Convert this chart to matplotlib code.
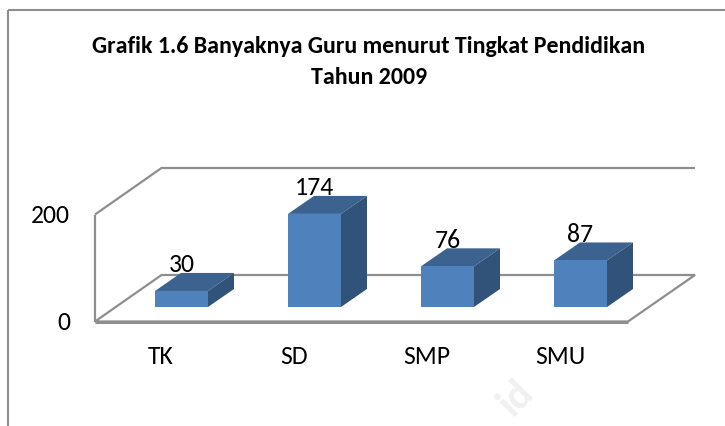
import matplotlib
matplotlib.use("Agg")
import matplotlib.pyplot as plt
from matplotlib.patches import Polygon

categories = ["TK", "SD", "SMP", "SMU"]
values = [30, 174, 76, 87]
y_ticks = [0, 200]
title = "Grafik 1.6 Banyaknya Guru menurut Tingkat Pendidikan\nTahun 2009"

W, H = 725, 426
PX_X = 133.0      # pixels per category
PX_Y = 0.535      # pixels per value unit
X0, Y0 = 181.5, 321.5  # pixel position of category 0 / value 0

plt.rcParams['font.family'] = ['Carlito', 'Lato', 'Open Sans', 'DejaVu Sans']
fig = plt.figure(figsize=(W / 100, H / 100), dpi=100, facecolor="white")
ax = fig.add_axes([0, 0, 1, 1])
ax.set_xlim(-X0 / PX_X, (W - X0) / PX_X)
ax.set_ylim(-(H - Y0) / PX_Y, Y0 / PX_Y)
ax.axis("off")

dx = lambda p: p / PX_X
dy = lambda p: p / PX_Y

GRAY = "#8e8e8e"
def line(xs, ys, lw=1.6, c=GRAY, z=1):
    ax.plot(xs, ys, color=c, lw=lw, solid_capstyle="butt", solid_joinstyle="miter", zorder=z)

# chart frame
fx = dx(7.5 - X0)
line([fx, fx], [dy(Y0 - H), dy(Y0 - 9.5)], lw=1.5)
line([fx, dx(W - X0)], [dy(Y0 - 9.5), dy(Y0 - 9.5)], lw=1.5)

# 3D walls and floor
wl = dx(95 - X0)        # front-left
bl = dx(161.5 - X0)     # back-left
fr = dx(628 - X0)       # front-right
br = dx(695 - X0)       # back-right
back = dy(46.5)
top = y_ticks[-1]
line([wl, wl], [0, top])
line([wl, bl, br], [top, top + back, top + back])
line([wl, bl, br, fr, wl], [0, back, back, 0, 0])
line([wl, fr], [0, 0], lw=2.2)

# bars
bw = dx(53)
ox, oy = dx(26), dy(18)
base = dy(14.5)
for i, v in enumerate(values):
    l, r = i - bw / 2, i + bw / 2
    b, t = base, base + v
    ax.add_patch(Polygon([(l, t), (r, t), (r + ox, t + oy), (l + ox, t + oy)], fc="#3c6290", ec="none", zorder=3))
    ax.add_patch(Polygon([(r, b), (r + ox, b + oy), (r + ox, t + oy), (r, t)], fc="#325379", ec="none", zorder=3))
    ax.add_patch(Polygon([(l, b), (r, b), (r, t), (l, t)], fc="#4f81bd", ec="none", zorder=3))
    ax.text(i, t + oy + dy(8), str(v), ha="center", va="center", fontsize=18.5, color="black", zorder=4)
    ax.text(i - dx(20.5), dy(Y0 - 356), categories[i], ha="center", va="center", fontsize=18.5, color="black")

for v in y_ticks:
    ax.text(dx(70 - X0), v + dy(-1), str(v), ha="right", va="center", fontsize=18.5, color="black")

ax.text(dx(369 - X0), dy(Y0 - 62), title, ha="center", va="center", fontsize=17.2,
        fontweight="bold", color="black", linespacing=1.54)

# faint page watermark
ax.text(dx(516 - X0), dy(Y0 - 398), "id", ha="center", va="center", fontsize=30, rotation=45,
        fontweight="bold", color="#f0f0f0", zorder=0)

fig.savefig("out.png", dpi=100, facecolor="white")
